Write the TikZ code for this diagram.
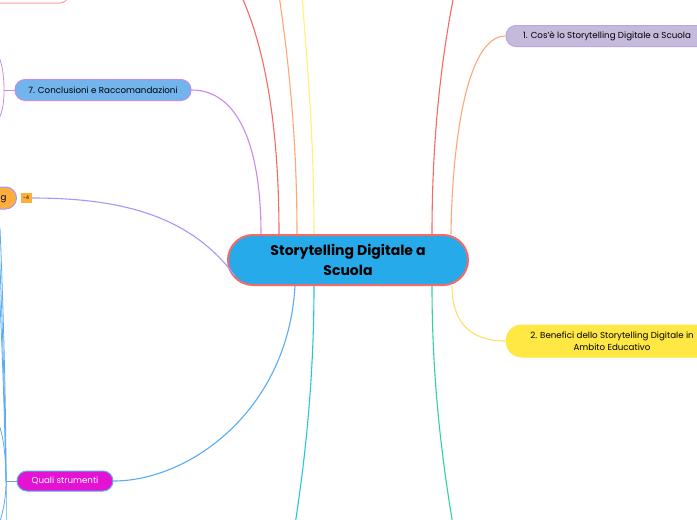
\documentclass[tikz,border=0pt]{standalone}
\usepackage{fontspec}
\setmainfont{Poppins}
\definecolor{cfill}{HTML}{27AAEA}
\definecolor{cred}{HTML}{F36B67}
\definecolor{corange}{HTML}{FFA877}
\definecolor{cyellowl}{HTML}{FFF07A}
\definecolor{cpurple}{HTML}{C88BEC}
\definecolor{clav}{HTML}{A39AF7}
\definecolor{cblue}{HTML}{5AABF2}
\definecolor{ccyan}{HTML}{22C9D8}
\definecolor{cgreen}{HTML}{33D39A}
\definecolor{cgray}{HTML}{7F9CCB}
\definecolor{nonefill}{HTML}{C5BADB}
\definecolor{nonedraw}{HTML}{BBA8E0}
\definecolor{ntwofill}{HTML}{FFE744}
\definecolor{nsevenfill}{HTML}{72B4EC}
\definecolor{norange}{HTML}{FFAE3D}
\definecolor{nmagenta}{HTML}{E412D2}
\definecolor{npink}{HTML}{F5A39B}
\tikzset{
  box/.style={rectangle, inner sep=0pt, align=center, line width=1pt, font=\fontsize{8.7}{12}\selectfont},
  central/.style={rectangle, rounded corners=25pt, fill=cfill, draw=cred, line width=2pt,
    minimum width=240pt, minimum height=50pt, align=center, font=\bfseries\fontsize{14}{20}\selectfont},
  conn/.style={line width=1.1pt},
  thin conn/.style={line width=0.8pt}
}
\begin{document}
\begin{tikzpicture}[x=1pt,y=-1pt]
\useasboundingbox (0,0) rectangle (697,520);
\clip (0,0) rectangle (697,520);
\fill[white] (0,0) rectangle (697,520);

% top-left cut box
\draw[npink, line width=1pt, fill=white, rounded corners=8pt] (-30,-20) rectangle (68,3);

% nodes
\node[central] (c) at (348,260) {Storytelling Digitale a\\Scuola};
\node[box, fill=nonefill, draw=nonedraw, rounded corners=10pt, minimum width=202pt, minimum height=21pt] (n1) at (607,36) {1. Cos'è lo Storytelling Digitale a Scuola};
\node[box, fill=ntwofill, draw=ntwofill, rounded corners=16pt, minimum width=212pt, minimum height=32pt] (n2) at (612,341) {2. Benefici dello Storytelling Digitale in\\Ambito Educativo};
\node[box, fill=nsevenfill, draw=cpurple, rounded corners=10pt, minimum width=176pt, minimum height=21pt] (n7) at (103,90) {7. Conclusioni e Raccomandazioni};
\node[box, fill=norange, draw=clav, rounded corners=11pt, minimum height=22pt, anchor=east, inner xsep=10pt] (nor) at (17,198) {Storytelling};
\node[rectangle, fill=norange, minimum width=11pt, minimum height=10pt, inner sep=0pt, font=\fontsize{5}{5}\selectfont] (badge) at (26,198) {-4};
\node[box, fill=nmagenta, draw=cblue, text=white, rounded corners=10pt, minimum width=96pt, minimum height=20pt] (nq) at (65,481) {Quali strumenti};

% helper coordinates for off-picture branches
\coordinate (t1) at (241,-5);
\coordinate (t2) at (279,-5);
\coordinate (t3) at (302,-5);
\coordinate (t4) at (454,-5);
\coordinate (b1) at (295,525);
\coordinate (b2) at (453,525);
\coordinate (p0) at (4,90);
\coordinate (q0) at (6,481);

% top connectors
\draw[conn, cred] ([xshift=-69pt]c.north) .. controls (279,130) and (266,50) .. (t1);
\draw[conn, corange] ([xshift=-51pt]c.north) .. controls (297,130) and (287,50) .. (t2);
\draw[conn, cyellowl] ([xshift=-34pt]c.north) .. controls (314,130) and (306,50) .. (t3);
\draw[conn, cred] ([xshift=84pt]c.north) .. controls (432,130) and (443,50) .. (t4);
\draw[conn, corange] ([xshift=103pt]c.north) .. controls (452,150) and (465,36) .. (n1.west);
\draw[conn, cpurple] ([xshift=-87pt]c.north) .. controls (261,150) and (240,90) .. (n7.east);

% bottom connectors
\draw[conn, ccyan] ([xshift=-34pt]c.south) .. controls (314,380) and (305,460) .. (b1);
\draw[conn, cgreen] ([xshift=84pt]c.south) .. controls (432,380) and (442,460) .. (b2);
\draw[conn, cyellowl!85!orange] ([xshift=104pt]c.south) .. controls (452,322) and (470,341) .. (n2.west);
\draw[conn, cblue] ([xshift=-53pt]c.south) .. controls (288,410) and (190,481) .. (nq.east);

% left connector
\path (c.west) ++(8pt,-16pt) coordinate (cl);
\draw[conn, clav] (cl) .. controls (190,215) and (120,198) .. (badge.east);

% purple branch of node 7 going off left
\draw[thin conn, cpurple] (n7.west) -- (p0);
\draw[thin conn, cpurple] (p0) .. controls (4,75) and (2,64) .. (-1,57);
\draw[thin conn, cpurple] (p0) .. controls (4,105) and (2,112) .. (-1,119);

% blue branches of Quali strumenti going off left
\draw[thin conn, cgray] (nq.west) -- (q0);
\draw[thin conn, cblue] (q0) .. controls (6,400) and (3,300) .. (0,228);
\draw[thin conn, cblue] (q0) .. controls (5,400) and (2,310) .. (-1,245);
\draw[thin conn, cblue] (q0) .. controls (4,390) and (1,320) .. (-2,262);
\draw[thin conn, cblue] (q0) .. controls (6,455) and (3,435) .. (-1,425);
\draw[thin conn, cblue] (q0) .. controls (6,500) and (3,510) .. (0,522);
\draw[thin conn, cblue] (q0) .. controls (6,500) and (6,510) .. (6,524);
\end{tikzpicture}
\end{document}
